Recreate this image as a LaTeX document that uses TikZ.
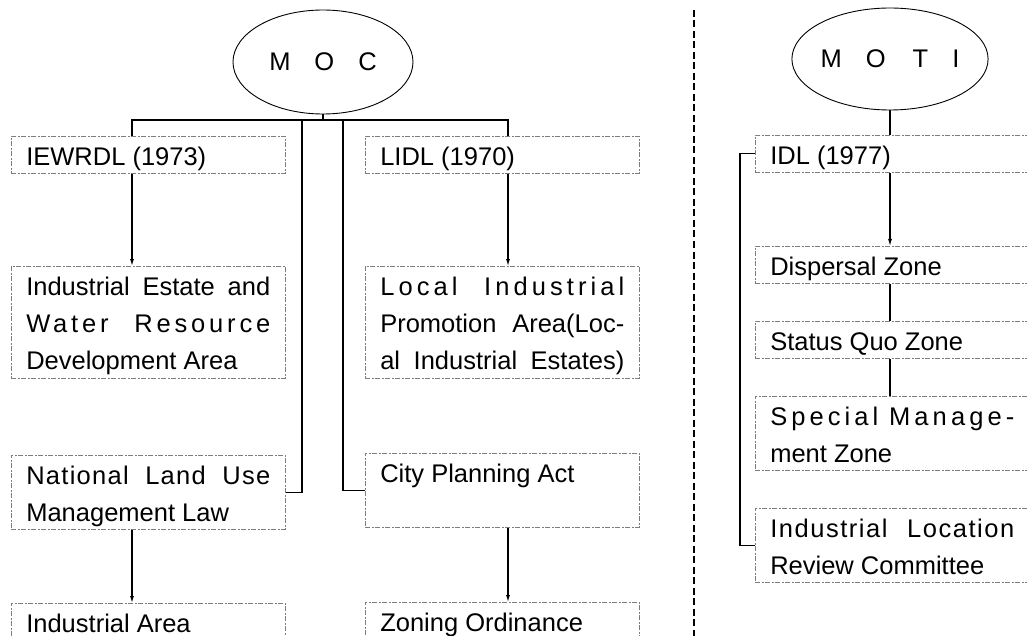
\documentclass[tikz,border=0pt]{standalone}
\usepackage{fontspec}
\setmainfont{Liberation Sans}
\usetikzlibrary{arrows.meta,shapes.geometric,positioning}
\definecolor{boxGray}{RGB}{125,125,125}
\newlength\lawwidth
\setlength\lawwidth{244pt}
% justified line, optional letter spacing
\newcommand\fullline[2][0]{{\addfontfeature{LetterSpace=#1}\makebox[\lawwidth][s]{#2}}}
\newcommand\lawfont{\fontsize{25.5}{37}\selectfont}
\tikzset{
  law box/.style={draw=boxGray,line width=0.6pt,dash pattern=on 5pt off 1.5pt on 2pt off 1.5pt,anchor=north west,text width=\lawwidth,inner xsep=15pt,inner ysep=0pt,align=flush left,text height=29pt,text depth=8pt,font=\lawfont},
  ministry/.style={ellipse,draw,line width=0.9pt,inner sep=0pt,font=\lawfont},
  link/.style={line width=1.1pt},
  link arrow/.style={link,-{Latex[length=7pt,width=4pt]}},
  divider/.style={line width=1.2pt,dash pattern=on 7pt off 3.5pt}
}
\begin{document}
\begin{tikzpicture}[x=1pt,y=-1pt]
  \useasboundingbox (0,0) rectangle (1027,636);
  % MOC side
  \node[ministry,minimum width=180pt,minimum height=104pt] (moc) at (323,62) {M\hspace{24pt}O\hspace{24pt}C};
  \node[law box] (iewrdl) at (11,136) {IEWRDL (1973)};
  \node[law box,text depth=83pt] (estate) at (11,266) {\fullline{Industrial Estate and}\\\fullline[15]{Water Resource}\\Development Area};
  \node[law box,text depth=45pt] (landuse) at (11,455) {\fullline[5]{National Land Use}\\Management Law};
  \node[law box,text depth=45pt] (indarea) at (11,603) {Industrial Area};
  \node[law box] (lidl) at (365,136) {LIDL (1970)};
  \node[law box,text depth=83pt] (promo) at (365,266) {\fullline[16]{Local Industrial}\\\fullline{Promotion Area(Loc-}\\\fullline{al Industrial Estates)}};
  \node[law box,text depth=45pt] (cityplan) at (365,453) {City Planning Act};
  \node[law box,text depth=45pt] (zoning) at (365,602) {Zoning Ordinance};
  \coordinate (busL) at (132,120);
  \coordinate (busR) at (508,120);
  \coordinate (busA) at (302,120);
  \coordinate (busB) at (343,120);
  \draw[link] (moc.south) -- (moc.south |- busL);
  \draw[link] (iewrdl.north -| busL) |- (busR) -- (lidl.north -| busR);
  \draw[link arrow] (iewrdl.south -| busL) -- (estate.north -| busL);
  \draw[link arrow] (lidl.south -| busR) -- (promo.north -| busR);
  \draw[link] (busA) |- (landuse.east);
  \draw[link] (busB) |- (cityplan.west);
  \draw[link arrow] (landuse.south -| busL) -- (indarea.north -| busL);
  \draw[link arrow] (cityplan.south -| busR) -- (zoning.north -| busR);
  % separator
  \coordinate (divTop) at (694,10);
  \coordinate (divBot) at (694,640);
  \draw[divider] (divTop) -- (divBot);
  % MOTI side
  \node[ministry,minimum width=177pt,minimum height=102pt] (moti) at (890,59) {M\hspace{24pt}O\hspace{27pt}T\hspace{24pt}I};
  \node[law box] (idl) at (755,135) {IDL (1977)};
  \node[law box] (dispersal) at (755,246) {Dispersal Zone};
  \node[law box] (statusquo) at (755,321) {Status Quo Zone};
  \node[law box,text depth=45pt] (special) at (755,396) {\fullline[16]{Special Manage-}\\ment Zone};
  \node[law box,text depth=45pt] (review) at (755,508) {\fullline[6]{Industrial Location}\\Review Committee};
  \draw[link] (moti.south) -- (moti.south |- idl.north);
  \draw[link arrow] (idl.south -| moti.south) -- (dispersal.north -| moti.south);
  \draw[link] (dispersal.south -| moti.south) -- (statusquo.north -| moti.south);
  \draw[link] (statusquo.south -| moti.south) -- (special.north -| moti.south);
  \draw[link] (idl.west) -- ++(-15,0) |- (review.west);
\end{tikzpicture}
\end{document}
